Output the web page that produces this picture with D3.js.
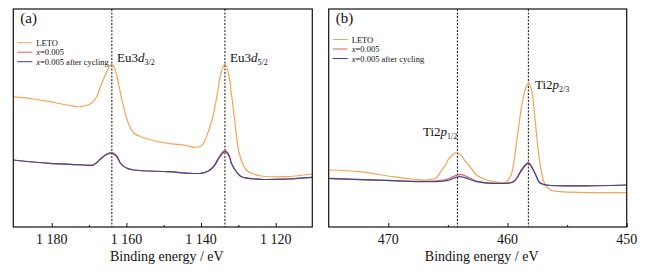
<!DOCTYPE html>
<html>
<head>
<meta charset="utf-8">
<script src="https://cdn.jsdelivr.net/npm/d3@7"></script>
<style>
  body { margin: 0; background: #fff; }
  text { font-family: "Liberation Serif", "Times New Roman", serif; fill: #111; }
</style>
</head>
<body>
<div id="chart"></div>
<script>
// series names and colours
var seriesNames = ["LETO", "x=0.005", "x=0.005 after cycling"];
var seriesColors = ["#f3a457", "#e0605a", "#3e4690"];

// (a) Eu 3d region, [binding energy eV, intensity a.u.]
var euLETO = [
    [1190.3, 130.3], [1185, 128], [1180.5, 125.3], [1176, 122], [1172.4, 120.3], [1169.7, 123],
    [1168, 130], [1167, 140], [1165.9, 150], [1165.2, 156], [1164.5, 161], [1163.9, 162.7], [1163.2, 159],
    [1162.5, 150], [1161.2, 127], [1159.5, 104], [1158, 94], [1155.5, 89.5], [1153.4, 87],
    [1148.9, 83.7], [1144, 81.5], [1141.9, 79.7], [1140, 81], [1139, 86], [1138.2, 94],
    [1137, 108], [1135.6, 134], [1134.6, 155], [1133.6, 163], [1132.7, 154], [1131.9, 134],
    [1131, 107], [1129.8, 74], [1127.9, 57], [1126, 53], [1123.9, 51], [1117.7, 50.3], [1110.2, 53]
];
var euX005 = [
    [1190.3, 67], [1185, 65], [1180.5, 63.7], [1175, 62.7], [1169.7, 61.8], [1168.8, 62.2],
    [1167, 68], [1165.5, 72.8], [1163.9, 74.7], [1162.5, 70.8], [1161.6, 64], [1160, 59],
    [1158, 57], [1149, 55.3], [1140, 53.7], [1138, 56.2], [1136.6, 61], [1135, 71.2],
    [1133.6, 76.6], [1132.5, 72], [1131.9, 64.2], [1130.5, 55], [1129.2, 50.3], [1123.9, 47.7],
    [1117, 48], [1110.2, 49.7]
];
var euCycled = [
    [1190.3, 67], [1185, 65], [1180.5, 63.7], [1175, 62.7], [1169.7, 61.7], [1168.8, 62],
    [1167, 67.7], [1165.5, 72], [1163.9, 73.7], [1162.5, 70], [1161.6, 63.7], [1160, 59],
    [1158, 57], [1149, 55.3], [1140, 53.7], [1138, 56], [1136.6, 60.3], [1135, 70],
    [1133.6, 75.3], [1132.5, 71], [1131.9, 63.7], [1130.5, 55], [1129.2, 50.3], [1123.9, 47.7],
    [1117, 48], [1110.2, 49.7]
];

// (b) Ti 2p region
var tiLETO = [
    [475, 57], [472.4, 55.3], [469.6, 50.3], [468, 48], [466.8, 47], [466, 49], [465.7, 53.7],
    [465.2, 62], [464.9, 68.7], [464.2, 74.3], [463.5, 65.3], [463, 58], [462.6, 52],
    [461.2, 45.3], [460.1, 45.3], [459.7, 52], [459.5, 62], [459.35, 75], [459.1, 97],
    [458.8, 122], [458.5, 138], [458.25, 143.7], [458, 138], [457.75, 115], [457.5, 85],
    [457.2, 58], [456.9, 44], [456.4, 37], [455.6, 35.3], [450, 34.3]
];
var tiX005 = [
    [475, 48.3], [469.6, 46.3], [466.8, 45.7], [465.1, 47.5], [464, 52.7], [462.6, 46],
    [461.2, 43.7], [459.5, 45.5], [458.8, 58], [458.25, 64.3], [457.7, 54], [457.3, 44.3],
    [456.7, 42], [450, 42]
];
var tiCycled = [
    [475, 48.7], [469.6, 46.3], [466.8, 45.3], [465.1, 46.3], [464, 50.3], [462.6, 45.3],
    [461.2, 43.7], [459.5, 45.3], [458.8, 57], [458.25, 63.7], [457.7, 53.7], [457.3, 44.3],
    [456.7, 42], [450, 42]
];

// peak markers and labels
var euPeaks = [1163.9, 1133.6];
var tiPeaks = [464.2, 458.25];
var euLabels = [["Eu3", "d", "3/2"], ["Eu3", "d", "5/2"]];
var tiLabels = [["Ti2", "p", "1/2"], ["Ti2", "p", "2/3"]];

var W = 656, H = 272;
var svg = d3.select("#chart").append("svg").attr("width", W).attr("height", H);

var spaceFmt = d3.formatLocale({ decimal: ".", thousands: " ", grouping: [3], currency: ["", ""] }).format(",");

function drawPanel(p) {
    var x = d3.scaleLinear().domain(p.domain).range([p.left, p.right]);
    var y = d3.scaleLinear().domain([0, 218]).range([227, 9]);
    var g = svg.append("g");

    // inward ticks at the bottom
    g.append("g")
        .attr("transform", "translate(0,227)")
        .call(d3.axisTop(x).tickValues(p.minor).tickSize(2).tickFormat(""))
        .call(function (s) { s.select(".domain").remove(); });
    var ax = g.append("g")
        .attr("transform", "translate(0,227)")
        .call(d3.axisTop(x).tickValues(p.major).tickSize(4).tickFormat(""));
    ax.select(".domain").remove();
    g.selectAll(".tick line").attr("stroke", "#111");

    g.selectAll(".tlab")
        .data(p.major)
        .join("text")
        .attr("x", function (d) { return x(d); })
        .attr("y", 244)
        .attr("text-anchor", "middle")
        .style("font-size", "14px")
        .text(p.fmt);

    g.append("text")
        .attr("x", (p.left + p.right) / 2 + 4)
        .attr("y", 261)
        .attr("text-anchor", "middle")
        .style("font-size", "14px")
        .text("Binding energy / eV");

    // dashed peak lines
    g.selectAll(".peak")
        .data(p.peaks)
        .join("line")
        .attr("x1", function (d) { return x(d); })
        .attr("x2", function (d) { return x(d); })
        .attr("y1", 9).attr("y2", 227)
        .attr("stroke", "#111")
        .attr("stroke-width", 1)
        .attr("stroke-dasharray", "2,1.5");

    var line = d3.line()
        .x(function (d) { return x(d[0]); })
        .y(function (d) { return y(d[1]); })
        .curve(d3.curveCatmullRom.alpha(0.5));

    p.series.forEach(function (s, i) {
        g.append("path")
            .datum(s)
            .attr("d", line)
            .attr("fill", "none")
            .attr("stroke", p.colors[i])
            .attr("stroke-width", 1.2);
    });

    // frame
    g.append("rect")
        .attr("x", p.left).attr("y", 9)
        .attr("width", p.right - p.left).attr("height", 218)
        .attr("fill", "none")
        .attr("stroke", "#111")
        .attr("stroke-width", 1.2);

    g.append("text")
        .attr("x", p.left + 7)
        .attr("y", 23)
        .style("font-size", "15px")
        .text(p.tag);

    // legend
    seriesNames.forEach(function (name, i) {
        var ly = p.legY + i * 9.5;
        g.append("line")
            .attr("x1", p.left + 4).attr("x2", p.left + 19)
            .attr("y1", ly).attr("y2", ly)
            .attr("stroke", seriesColors[i])
            .attr("stroke-width", 1);
        var t = g.append("text")
            .attr("x", p.left + 23)
            .attr("y", ly + 3)
            .style("font-size", "8.5px");
        if (name.indexOf("x=") === 0) {
            t.append("tspan").style("font-style", "italic").text("x");
            t.append("tspan").text(name.slice(1));
        } else {
            t.text(name);
        }
    });

    // peak annotations
    p.labels.forEach(function (lab, i) {
        var t = g.append("text")
            .attr("x", p.labX[i])
            .attr("y", p.labY[i])
            .style("font-size", "13px");
        t.append("tspan").text(lab[0]);
        t.append("tspan").style("font-style", "italic").text(lab[1]);
        t.append("tspan").attr("dy", 3).style("font-size", "8px").text(lab[2]);
    });
}

drawPanel({
    domain: [1190.3, 1110.2], left: 13.3, right: 312.3,
    major: [1180, 1160, 1140, 1120], minor: [1170, 1150, 1130],
    fmt: spaceFmt, tag: "(a)", peaks: euPeaks,
    series: [euLETO, euX005, euCycled], colors: seriesColors,
    legY: 42.7, labels: euLabels, labX: [117, 230], labY: [62, 62]
});

drawPanel({
    domain: [475, 450], left: 328.7, right: 626.7,
    major: [470, 460, 450], minor: [465, 455],
    fmt: d3.format("d"), tag: "(b)", peaks: tiPeaks,
    series: [tiLETO, tiX005, tiCycled], colors: seriesColors,
    legY: 39.5, labels: tiLabels, labX: [423, 535], labY: [136, 89]
});
</script>
</body>
</html>
